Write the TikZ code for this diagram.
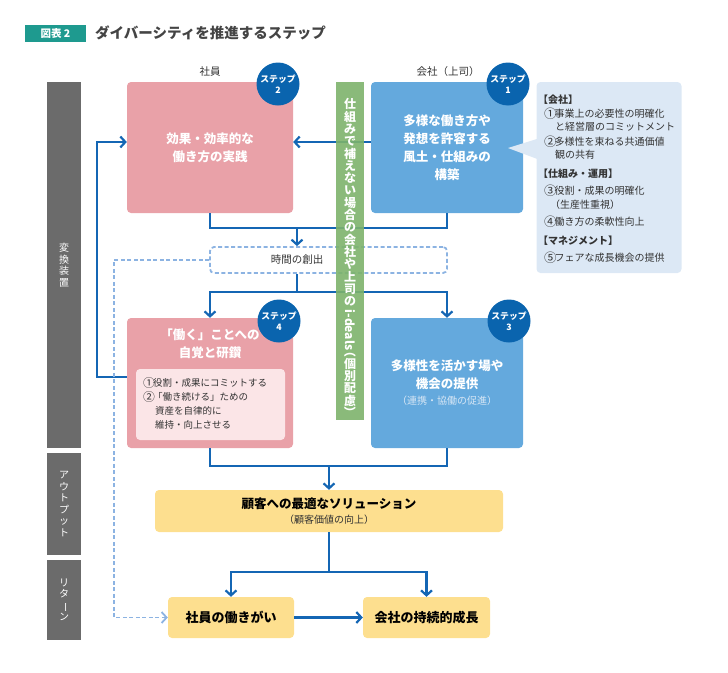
\documentclass[tikz,border=0pt]{standalone}
\usepackage{fontspec}
\setmainfont{Noto Sans CJK JP}
\usetikzlibrary{arrows.meta,calc}
\definecolor{tealc}{HTML}{1E9A8F}
\definecolor{grayc}{HTML}{6B6B6B}
\definecolor{pinkc}{HTML}{E9A1A8}
\definecolor{ipink}{HTML}{FBE5E7}
\definecolor{bluec}{HTML}{64A9DD}
\definecolor{dblue}{HTML}{0A64AE}
\definecolor{linec}{HTML}{1466B4}
\definecolor{dashc}{HTML}{8CB3E2}
\definecolor{greenc}{HTML}{7DB36B}
\definecolor{callc}{HTML}{DCE8F5}
\definecolor{yellowc}{HTML}{FDDF8F}
\definecolor{titlec}{HTML}{444444}
\definecolor{txtc}{HTML}{333333}
\definecolor{subc}{HTML}{D6E6F5}
\newcommand{\fsz}[2]{\fontsize{#1}{#2}\selectfont}
\newcommand{\tight}{\lineskiplimit=-30pt\lineskip=0pt}
\newcommand{\cn}[1]{\makebox[1.05em][l]{\raisebox{-0.08em}{\scalebox{1.25}{#1}}}}
\newcommand{\vrot}[1]{\rotatebox[origin=c]{-90}{#1}}
\begin{document}
\begin{tikzpicture}[x=1pt,y=-1pt,
  box/.style={rounded corners=4pt, inner sep=0pt, align=center, text=white, font=\bfseries\fsz{12.5}{18}},
  stepc/.style={circle, fill=dblue, minimum size=43pt, inner sep=0pt, align=center, text=white, font=\bfseries\fsz{8.8}{11}},
  sideb/.style={fill=grayc, minimum width=34pt, inner sep=0pt, align=center, text=white, font=\fsz{10}{11.5}\tight},
  conn/.style={draw=linec, line width=2.2pt},
  arr/.style={-{Straight Barb[length=5pt,width=11pt]}},
  dconn/.style={draw=dashc, line width=1.8pt, dash pattern=on 4pt off 2.5pt},
  ctxt/.style={anchor=west, inner sep=0pt, font=\fsz{10}{12}, text=txtc},
  ltxt/.style={anchor=west, inner sep=0pt, font=\fsz{9.5}{11}, text=txtc},
  vtxt/.style={font=\bfseries\fsz{12}{12.3}\tight, text=white, align=center, inner sep=0pt},
  ybox/.style={fill=yellowc, rounded corners=4pt, inner sep=0pt, text=black, font=\bfseries\fsz{13}{15}}
]
\useasboundingbox (0,0) rectangle (728,672);

% title
\node[fill=tealc, minimum width=61pt, minimum height=17pt, inner sep=0pt, text=white, font=\bfseries\fsz{10.5}{12}] (badge) at (55.5,33.5) {図表 2};
\node[anchor=west, inner sep=0pt, font=\bfseries\fsz{14.5}{16}, text=titlec] (title) at (95,33) {ダイバーシティを推進するステップ};

% sidebar
\node[sideb, minimum height=366pt] (sA) at (64,265) {変\\換\\装\\置};
\node[sideb, minimum height=102pt] (sB) at (64,504) {ア\\ウ\\ト\\プ\\ッ\\ト};
\node[sideb, minimum height=80pt] (sC) at (64,600) {リ\\タ\\\vrot{ー}\\ン};

% column labels
\node[font=\fsz{10.5}{12}, text=txtc] (lab1) at (210,72) {社員};
\node[font=\fsz{10.5}{12}, text=txtc] (lab2) at (448,72) {会社（上司）};

% step boxes
\node[box, fill=pinkc, minimum width=166pt, minimum height=131pt] (s2) at (210,147.5) {効果・効率的な\\働き方の実践};
\node[box, fill=bluec, minimum width=152pt, minimum height=131pt] (s1) at (447,147.5) {多様な働き方や\\発想を許容する\\風土・仕組みの\\構築};
\node[box, fill=pinkc, minimum width=166pt, minimum height=130pt] (s4) at (210,383) {};
\node[box, fill=bluec, minimum width=152pt, minimum height=130pt] (s3) at (447,383) {多様性を活かす場や\\機会の提供\\[-2pt]{\mdseries\fsz{10}{12}\color{subc}（連携・協働の促進）}};

\node[font=\bfseries\fsz{12.5}{18}, text=white, align=center, inner sep=0pt] (s4t) at (210,344) {「働く」ことへの\\自覚と研鑽};
\node[fill=ipink, rounded corners=4pt, minimum width=149pt, minimum height=71pt, inner sep=0pt] (s4i) at (210.5,404.5) {};
\node[ltxt] (l4a) at (143,383) {\cn{①}役割・成果にコミットする};
\node[ltxt] (l4b) at (143,397) {\cn{②}「働き続ける」ための};
\node[ltxt] (l4c) at (155,411) {資産を自律的に};
\node[ltxt] (l4d) at (155,425) {維持・向上させる};

% output / return boxes
\node[ybox, minimum width=348pt, minimum height=42pt] (sol) at (329,511) {};
\node[inner sep=0pt, font=\bfseries\fsz{12.5}{14}] (solt) at (329,504) {顧客への最適なソリューション};
\node[inner sep=0pt, font=\fsz{10}{12}, text=txtc] (sols) at (329,520) {（顧客価値の向上）};
\node[ybox, minimum width=126pt, minimum height=41pt] (b1) at (231,617.5) {社員の働きがい};
\node[ybox, minimum width=127pt, minimum height=41pt] (b2) at (426.5,617.5) {会社の持続的成長};

% coordinates
\coordinate (j1) at (297,228);
\coordinate (j2) at (297,292);
\coordinate (j3) at (329,466);
\coordinate (j4) at (329,572);
\coordinate (l1) at (97,377);
\coordinate (l2) at (97,142);
\coordinate (d1) at (114,260);
\coordinate (d2) at (114,617.5);

% time box
\node[dconn, rounded corners=4pt, minimum width=237pt, minimum height=26pt, inner sep=0pt] (tb) at (328.5,260) {};
\node[inner sep=0pt, font=\fsz{10.5}{12}, text=txtc] (tbt) at (297,260) {時間の創出};

% connectors
\draw[conn] (s2.south) |- (j1) -| (s1.south);
\draw[conn,arr] (j1) -- (j1 |- tb.north);
\draw[conn] (j1 |- tb.south) -- (j2);
\draw[conn,arr] (j2) -| (s4.north);
\draw[conn,arr] (j2) -| (s3.north);
\draw[conn] (s4.south) |- (j3) -| (s3.south);
\draw[conn,arr] (j3) -- (sol.north);
\draw[conn] (sol.south) -- (j4);
\draw[conn,arr] (j4) -| (b1.north);
\draw[conn,arr] (j4) -| (b2.north);
\draw[conn,arr] (b1) -- (b2);
\draw[conn,arr] (s4.west |- l1) -- (l1) -- (l2) -- (s2.west |- l2);
\draw[conn,arr] (s1.west |- l2) -- (s2.east |- l2);
\draw[dconn,-{Straight Barb[length=5pt,width=11pt]}] (tb.west) -- (d1) -- (d2) -- (b1.west);

% green bar
\node[fill=greenc, fill opacity=0.9, minimum width=28pt, minimum height=338pt, inner sep=0pt] (gb) at (350,251) {};
\node[vtxt] (gt1) at (350,202.5) {仕\\組\\み\\で\\補\\え\\な\\い\\場\\合\\の\\会\\社\\や\\上\\司\\の};
\node[vtxt, rotate=-90, font=\bfseries\fsz{12}{12}] (gt2) at (350,330) {i-deals};
\node[vtxt] (gt3) at (350,382) {\vrot{（}\\個\\別\\配\\慮\\\vrot{）}};

% step circles
\node[stepc] (c2) at (278,84) {ステップ\\2};
\node[stepc] (c1) at (508,84) {ステップ\\1};
\node[stepc] (c4) at (279,321) {ステップ\\4};
\node[stepc] (c3) at (509,321) {ステップ\\3};

% callout
\node[fill=callc, rounded corners=4pt, minimum width=145pt, minimum height=191pt, inner sep=0pt] (cb) at (609,177.5) {};
\fill[callc] (540,138) -- (508,148) -- (540,160) -- cycle;
\node[ctxt] (k1) at (538,100) {\bfseries【会社】};
\node[ctxt] (k2) at (544,114) {\cn{①}事業上の必要性の明確化};
\node[ctxt] (k3) at (555,127) {と経営層のコミットメント};
\node[ctxt] (k4) at (544,142) {\cn{②}多様性を束ねる共通価値};
\node[ctxt] (k5) at (555,155) {観の共有};
\node[ctxt] (k6) at (538,174) {\bfseries【仕組み・運用】};
\node[ctxt] (k7) at (544,191) {\cn{③}役割・成果の明確化};
\node[ctxt] (k8) at (550,205) {（生産性重視）};
\node[ctxt] (k9) at (544,222) {\cn{④}働き方の柔軟性向上};
\node[ctxt] (k10) at (538,241) {\bfseries【マネジメント】};
\node[ctxt] (k11) at (544,258) {\cn{⑤}フェアな成長機会の提供};
\end{tikzpicture}
\end{document}
